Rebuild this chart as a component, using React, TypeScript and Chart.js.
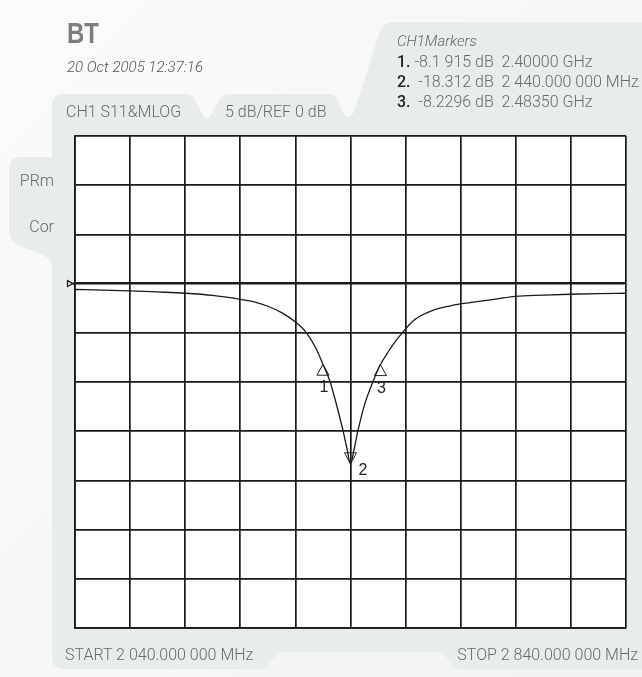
import React, { useEffect, useRef } from "react";
import { Chart, registerables } from "chart.js";

Chart.register(...registerables);

// ---- data ----
const startFreq = 2040; // MHz
const stopFreq = 2840; // MHz
const freqStep = 80; // MHz per division
const refLevel = 0; // dB
const dbMin = -35;
const dbMax = 15;
const dbPerDiv = 5;

const freqMHz = [
  2040, 2080, 2120, 2160, 2200, 2240, 2280, 2300, 2320, 2340, 2360, 2376, 2390,
  2400, 2410, 2417, 2423, 2429, 2435, 2440, 2445, 2451, 2460, 2473, 2483.5,
  2495, 2505, 2517, 2530, 2540, 2555, 2570, 2600, 2640, 2680, 2720, 2760, 2800,
  2840,
];
const s11dB = [
  -0.6, -0.66, -0.74, -0.85, -0.98, -1.2, -1.6, -1.85, -2.3, -2.95, -3.9, -5.0,
  -6.6, -8.1915, -9.9, -11.6, -13.2, -14.9, -16.8, -18.312, -16.9, -14.9, -12.4,
  -9.9, -8.2296, -6.9, -5.9, -4.85, -3.85, -3.35, -2.85, -2.5, -2.06, -1.68,
  -1.3, -1.18, -1.08, -1.02, -0.98,
];

const markerIds = ["1", "2", "3"];
const markerFreqs = [2400, 2440, 2483.5];
const markerValues = [-8.1915, -18.312, -8.2296];
const markerDirs = ["up", "down", "up"];
const markerTexts = [
  " -8.1 915 dB  2.40000 GHz",
  "  -18.312 dB  2 440.000 000 MHz",
  "  -8.2296 dB  2.48350 GHz",
];

const titleText = "BT";
const dateText = "20 Oct 2005 12:37:16";
const channelText = "CH1 S11&MLOG";
const scaleText = "5 dB/REF 0 dB";
const markersTitle = "CH1Markers";
const sideLabels = ["PRm", "Cor"];
const startText = "START 2 040.000 000 MHz";
const stopText = "STOP 2 840.000 000 MHz";

const INK = "#1a1a1a";

const bgPlugin = {
  id: "bgPlugin",
  beforeDraw(chart: any) {
    const { ctx, chartArea } = chart;
    ctx.save();
    ctx.fillStyle = "#ffffff";
    ctx.fillRect(
      chartArea.left,
      chartArea.top,
      chartArea.right - chartArea.left,
      chartArea.bottom - chartArea.top
    );
    ctx.restore();
  },
};

const markerPlugin = {
  id: "markerPlugin",
  afterDatasetsDraw(chart: any) {
    const { ctx } = chart;
    const xs = chart.scales.x;
    const ys = chart.scales.y;
    ctx.save();
    // reference level pointer
    const y0 = ys.getPixelForValue(refLevel);
    const xl = xs.getPixelForValue(startFreq);
    ctx.strokeStyle = INK;
    ctx.lineWidth = 2.4;
    ctx.beginPath();
    ctx.moveTo(xl - 2, y0);
    ctx.lineTo(xl, y0);
    ctx.stroke();
    ctx.lineWidth = 1.2;
    ctx.beginPath();
    ctx.moveTo(xl - 7.5, y0 - 3);
    ctx.lineTo(xl - 2, y0);
    ctx.lineTo(xl - 7.5, y0 + 3);
    ctx.closePath();
    ctx.stroke();

    ctx.lineWidth = 1;
    ctx.strokeStyle = "#222";
    ctx.fillStyle = "#222";
    ctx.font = "16px 'Liberation Sans', Arial, sans-serif";
    markerFreqs.forEach((f, i) => {
      const px = xs.getPixelForValue(f);
      const py = ys.getPixelForValue(markerValues[i]);
      ctx.beginPath();
      if (markerDirs[i] === "up") {
        ctx.moveTo(px, py);
        ctx.lineTo(px - 6, py + 11);
        ctx.lineTo(px + 6, py + 11);
        ctx.closePath();
        ctx.stroke();
        ctx.textAlign = "center";
        ctx.textBaseline = "alphabetic";
        ctx.fillText(markerIds[i], px + 1, py + 28);
      } else {
        ctx.moveTo(px, py);
        ctx.lineTo(px - 6, py - 11);
        ctx.lineTo(px + 6, py - 11);
        ctx.closePath();
        ctx.stroke();
        ctx.textAlign = "left";
        ctx.textBaseline = "alphabetic";
        ctx.fillText(markerIds[i], px + 8, py + 11);
      }
    });
    ctx.restore();
  },
};

const FONT = "Roboto, 'Liberation Sans', Arial, sans-serif";

function Txt(props: {
  x: number;
  baseline: number;
  size: number;
  children: React.ReactNode;
  italic?: boolean;
  weight?: number;
  color?: string;
  family?: string;
  align?: "left" | "right";
  scaleX?: number;
}) {
  const { x, baseline, size, italic, weight, color, family, align, scaleX } = props;
  const top = baseline - 0.845 * size;
  const style: React.CSSProperties = {
    position: "absolute",
    top,
    fontSize: size,
    lineHeight: `${size}px`,
    fontStyle: italic ? "italic" : "normal",
    fontWeight: weight ?? 300,
    color: color ?? "#6a6a6a",
    fontFamily: family ?? FONT,
    whiteSpace: "pre",
  };
  if (scaleX) {
    style.transform = `scaleX(${scaleX})`;
    style.transformOrigin = "left top";
  }
  if (align === "right") style.right = 642 - x;
  else style.left = x;
  return <div style={style}>{props.children}</div>;
}

export default function App() {
  const ref = useRef<HTMLCanvasElement | null>(null);

  useEffect(() => {
    if (!ref.current) return;
    const chart = new Chart(ref.current, {
      type: "line",
      data: {
        datasets: [
          {
            data: freqMHz.map((f, i) => ({ x: f, y: s11dB[i] })),
            borderColor: INK,
            borderWidth: 1.3,
            pointRadius: 0,
            fill: false,
            cubicInterpolationMode: "monotone",
          },
        ],
      },
      options: {
        animation: false,
        responsive: false,
        maintainAspectRatio: false,
        layout: { padding: { left: 75, top: 136, right: 16, bottom: 49 } },
        plugins: { legend: { display: false }, tooltip: { enabled: false } },
        scales: {
          x: {
            type: "linear",
            min: startFreq,
            max: stopFreq,
            ticks: { display: false, stepSize: freqStep },
            grid: { color: INK, lineWidth: 1.7, drawTicks: false },
            border: { display: true, color: INK, width: 1.7 },
          },
          y: {
            type: "linear",
            min: dbMin,
            max: dbMax,
            ticks: { display: false, stepSize: dbPerDiv },
            grid: {
              color: INK,
              lineWidth: (c: any) => (c.tick && c.tick.value === refLevel ? 2.6 : 1.7),
              drawTicks: false,
            },
            border: { display: true, color: INK, width: 1.7 },
          },
        },
      } as any,
      plugins: [bgPlugin, markerPlugin],
    });
    return () => chart.destroy();
  }, []);

  const panel = "#e8ecea";
  return (
    <div
      style={{
        position: "absolute",
        left: 0,
        top: 0,
        width: 642,
        height: 677,
        overflow: "hidden",
      }}
    >
      <svg
        width={642}
        height={677}
        style={{ position: "absolute", left: 0, top: 0 }}
      >
        <defs>
          <linearGradient id="pg" x1="0" y1="0" x2="1" y2="1">
            <stop offset="0" stopColor="#fbfbfb" />
            <stop offset="1" stopColor="#f1f3f2" />
          </linearGradient>
        </defs>
        <rect x={0} y={0} width={642} height={677} fill="url(#pg)" />
        <path
          fill={panel}
          d="M 52 106 Q 52 94 64 94 L 186 94 Q 192 94 195 100 L 203 115 Q 207 122 211 115 L 219 100 Q 222 94 229 94 L 329 94 Q 335 94 338 100 L 343 113 Q 348 122 354 112 L 379 34 Q 382 22 395 22 L 642 22 L 642 669 L 64 669 Q 52 669 52 657 Z"
        />
        <path
          fill={panel}
          d="M 53 157 L 21 157 Q 9 157 9 169 L 9 231 Q 9 242 20 246 L 45 256 Q 53 260 53 270 Z"
        />
        <path
          fill="#f3f5f4"
          d="M 256 677 L 275 656 Q 279 652 286 652 L 436 652 Q 442 652 446 657 L 464 677 Z"
        />
      </svg>
      <canvas
        ref={ref}
        width={642}
        height={677}
        style={{ position: "absolute", left: 0, top: 0 }}
      />
      <Txt
        x={67}
        baseline={43}
        size={30}
        weight={700}
        color="#7d7d7d"
        family="'Liberation Sans', Arial, sans-serif"
        scaleX={0.8}
      >
        {titleText}
      </Txt>
      <Txt x={67} baseline={73} size={15} italic color="#555">
        {dateText}
      </Txt>
      <Txt x={66} baseline={118} size={16}>
        {channelText}
      </Txt>
      <Txt x={225} baseline={118} size={16}>
        {scaleText}
      </Txt>
      <Txt x={397} baseline={47} size={15} italic color="#666">
        {markersTitle}
      </Txt>
      {markerTexts.map((t, i) => (
        <Txt key={i} x={397} baseline={68 + i * 20} size={16}>
          <span style={{ fontWeight: 500, color: "#222" }}>{markerIds[i] + "."}</span>
          {t}
        </Txt>
      ))}
      <Txt x={54} baseline={187} size={16} align="right">
        {sideLabels[0]}
      </Txt>
      <Txt x={54} baseline={233} size={16} align="right">
        {sideLabels[1]}
      </Txt>
      <Txt x={65} baseline={661} size={16}>
        {startText}
      </Txt>
      <Txt x={638} baseline={661} size={16} align="right">
        {stopText}
      </Txt>
    </div>
  );
}
